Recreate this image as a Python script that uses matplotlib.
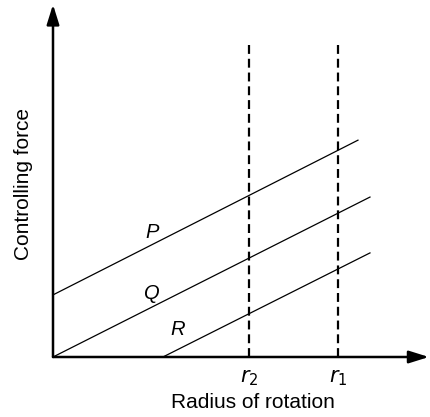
import numpy as np
import matplotlib.pyplot as plt

plt.rcParams['font.family'] = ['Liberation Sans', 'DejaVu Sans']

# characteristic lines (x start, y start, x end, y end)
line_names = ['P', 'Q', 'R']
x_start = [0.0, 0.0, 2.93]
y_start = [1.79, 0.0, 0.0]
x_end = [8.13, 8.45, 8.45]
y_end = [6.25, 4.61, 3.0]

label_x = [2.64, 2.64, 3.31]
label_y = [3.59, 1.84, 0.78]

# radii
radii = ['$r_2$', '$r_1$']
radius_x = [5.23, 7.6]
dash_top = 8.99

fig = plt.figure(figsize=(4.30, 4.17), dpi=100)
ax = fig.add_axes([53/430, 60/417, 377/430, 357/417])
ax.set_xlim(0, 10.05)
ax.set_ylim(0, 10.29)
ax.axis('off')

for i in range(3):
    ax.plot([x_start[i], x_end[i]], [y_start[i], y_end[i]], color='black', lw=0.9)
    ax.text(label_x[i], label_y[i], line_names[i], fontsize=14.5, style='italic',
            ha='center', va='center')

for name, xr in zip(radii, radius_x):
    ax.plot([xr, xr], [0, dash_top], color='black', lw=1.6, dashes=(4, 2.2))
    ax.text(xr, -0.62, name, fontsize=15, ha='center', va='center')

# axes with arrows
head = '-|>,head_length=0.8,head_width=0.25'
ax.annotate('', xy=(0, 10.16), xytext=(0, 0),
            arrowprops=dict(arrowstyle=head, lw=1.8, color='black',
                            mutation_scale=15, shrinkA=0, shrinkB=0))
ax.annotate('', xy=(10.02, 0), xytext=(0, 0),
            arrowprops=dict(arrowstyle=head, lw=1.8, color='black',
                            mutation_scale=15, shrinkA=0, shrinkB=0))

fig.text(253/430, 1 - 403/417, 'Radius of rotation', fontsize=15,
         ha='center', va='center')
fig.text(24/430, 1 - 184/417, 'Controlling force', fontsize=15,
         ha='center', va='center', rotation=90)

fig.savefig('out.png', dpi=100)
